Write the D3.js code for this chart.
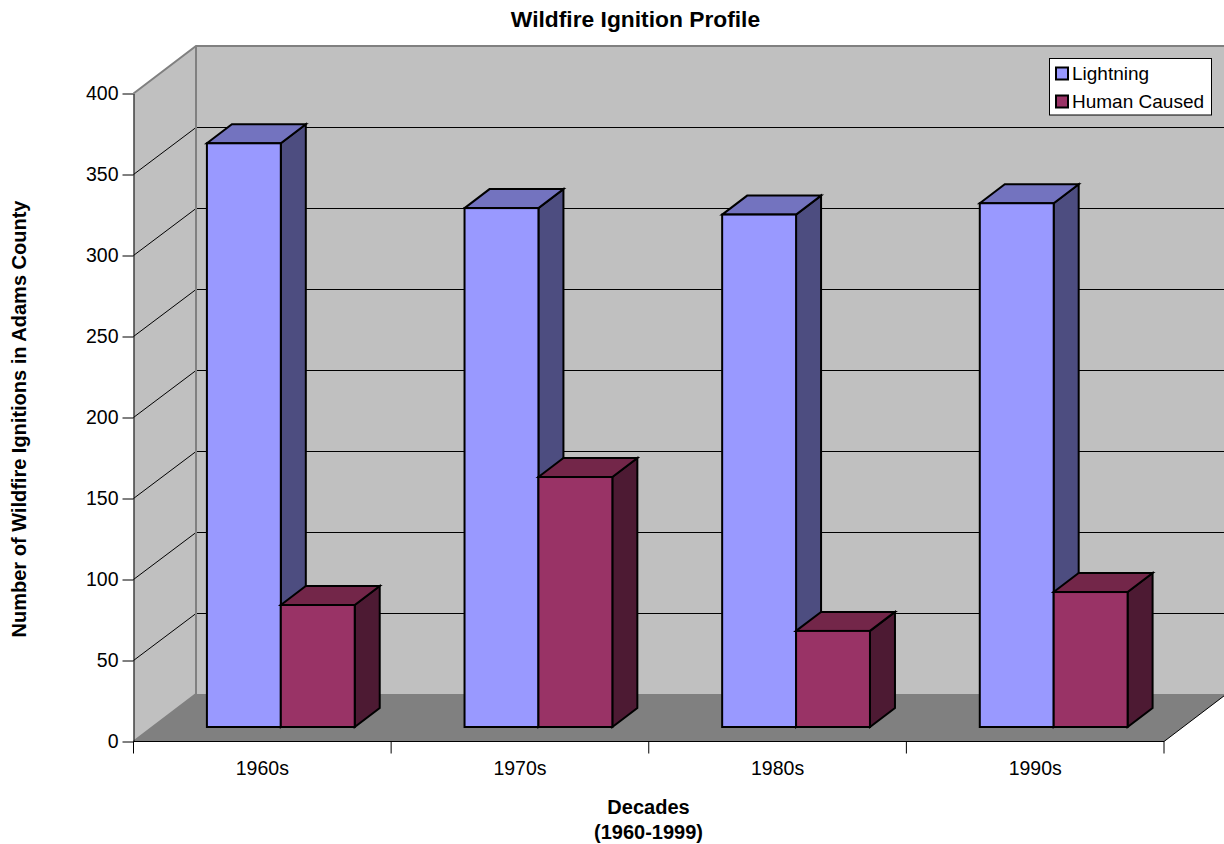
<!DOCTYPE html>
<html>
<head>
<meta charset="utf-8">
<title>Wildfire Ignition Profile</title>
<script src="https://cdn.jsdelivr.net/npm/d3@7"></script>
<style>
  html, body { margin: 0; padding: 0; background: #fff; overflow: hidden; }
  svg { display: block; font-family: "Liberation Sans", Arial, sans-serif; }
</style>
</head>
<body>
<svg id="chart" width="1224" height="844"></svg>
<script>
// Ignition counts per decade
const decades = ["1960s", "1970s", "1980s", "1990s"];
const seriesNames = ["Lightning", "Human Caused"];
const lightning = [360, 320, 316, 323];
const humanCaused = [75, 154, 59, 83];
const yTicks = [0, 50, 100, 150, 200, 250, 300, 350, 400];

const seriesValues = [lightning, humanCaused];
const seriesColors = [
  { front: "#9999ff", top: "#7373bf", side: "#4d4d80" },
  { front: "#993366", top: "#732649", side: "#4d1a33" }
];

const svg = d3.select("#chart");

// Front plane of the plot box
const plotLeft = 133.5, plotRight = 1164, plotBottom = 741.5, plotTop = 93.5;

const y = d3.scaleLinear().domain([0, 400]).range([plotBottom, plotTop]);
const x0 = d3.scaleBand().domain(decades).range([plotLeft, plotRight]);
const x1 = d3.scaleBand().domain(seriesNames).range([0, x0.bandwidth()])
  .paddingInner(0).paddingOuter(0.743);

// Oblique projection offsets: box depth, bar position in depth, bar depth
const depth = { dx: 62.5, dy: -47.5 };
const barInset = { dx: 19, dy: -14.5 };
const barDepth = { dx: 25, dy: -19 };

const pts = a => a.map(p => p.join(",")).join(" ");
const crisp = v => Math.floor(v) + 0.5;

// Back wall and side wall
svg.append("polygon")
  .attr("points", pts([[plotLeft + depth.dx, plotTop + depth.dy], [1224, plotTop + depth.dy],
                       [1224, plotBottom + depth.dy], [plotLeft + depth.dx, plotBottom + depth.dy]]))
  .attr("fill", "#c0c0c0");
svg.append("polygon")
  .attr("points", pts([[plotLeft, plotTop], [plotLeft + depth.dx, plotTop + depth.dy],
                       [plotLeft + depth.dx, plotBottom + depth.dy], [plotLeft, plotBottom]]))
  .attr("fill", "#c0c0c0");

// Floor
svg.append("polygon")
  .attr("points", pts([[plotLeft, plotBottom], [plotRight, plotBottom],
                       [plotRight + depth.dx, plotBottom + depth.dy], [plotLeft + depth.dx, plotBottom + depth.dy]]))
  .attr("fill", "#808080");

// Gridlines run along the side wall and across the back wall
yTicks.filter(t => t > 0 && t < 400).forEach(t => {
  const backY = crisp(y(t) + depth.dy);
  svg.append("polyline")
    .attr("points", pts([[plotLeft, crisp(y(t))], [plotLeft + depth.dx, backY], [1224, backY]]))
    .attr("fill", "none").attr("stroke", "#000").attr("stroke-width", 1);
});

// Wall outlines
svg.append("polyline")
  .attr("points", pts([[plotLeft, plotTop], [plotLeft + depth.dx, plotTop + depth.dy], [1224, plotTop + depth.dy]]))
  .attr("fill", "none").attr("stroke", "#808080").attr("stroke-width", 2);
svg.append("polyline")
  .attr("points", pts([[plotLeft + depth.dx, plotTop + depth.dy], [plotLeft + depth.dx, plotBottom + depth.dy], [plotLeft, plotBottom]]))
  .attr("fill", "none").attr("stroke", "#808080").attr("stroke-width", 2);

// Floor right edge
svg.append("line")
  .attr("x1", plotRight).attr("y1", plotBottom)
  .attr("x2", plotRight + depth.dx).attr("y2", plotBottom + depth.dy)
  .attr("stroke", "#000").attr("stroke-width", 1);

// Bars: each is a front face, a top face and a side face
const baseY = plotBottom + barInset.dy;
const barScale = v => y(0) - y(v);

decades.forEach((decade, i) => {
  seriesNames.forEach((name, s) => {
    const v = seriesValues[s][i];
    const c = seriesColors[s];
    const left = x0(decade) + x1(name) + barInset.dx - 0.5;
    const right = left + x1.bandwidth();
    const topY = baseY - barScale(v) - 0.5;
    const g = svg.append("g").attr("class", "bar")
      .attr("stroke", "#000").attr("stroke-width", 2).attr("stroke-linejoin", "miter");
    g.append("polygon").attr("fill", c.side)
      .attr("points", pts([[right, topY], [right + barDepth.dx, topY + barDepth.dy],
                           [right + barDepth.dx, baseY + barDepth.dy], [right, baseY]]));
    g.append("polygon").attr("fill", c.top)
      .attr("points", pts([[left, topY], [left + barDepth.dx, topY + barDepth.dy],
                           [right + barDepth.dx, topY + barDepth.dy], [right, topY]]));
    g.append("rect").attr("fill", c.front)
      .attr("x", left).attr("y", topY)
      .attr("width", right - left).attr("height", baseY - topY);
  });
});

// Value axis
const yAxis = svg.append("g").attr("transform", `translate(${plotLeft},0)`)
  .call(d3.axisLeft(y).tickValues(yTicks).tickSize(11).tickPadding(4).tickSizeOuter(0));
yAxis.select(".domain").attr("stroke", "#000");
yAxis.selectAll("text").attr("font-size", 19.5).attr("fill", "#000")
  .attr("font-family", "'Liberation Sans', Arial, sans-serif");

// Category axis: labels from the band scale, ticks on the band boundaries
const xAxis = svg.append("g").attr("transform", `translate(0,${plotBottom})`)
  .call(d3.axisBottom(x0).tickSize(0).tickPadding(20));
xAxis.select(".domain").remove();
xAxis.selectAll("text").attr("font-size", 19.5).attr("fill", "#000")
  .attr("font-family", "'Liberation Sans', Arial, sans-serif");
svg.append("line")
  .attr("x1", plotLeft).attr("x2", plotRight)
  .attr("y1", plotBottom).attr("y2", plotBottom)
  .attr("stroke", "#000").attr("stroke-width", 1);
decades.map(d => x0(d)).concat([x0.range()[1]]).forEach(xp => {
  svg.append("line")
    .attr("x1", xp).attr("x2", xp)
    .attr("y1", plotBottom).attr("y2", plotBottom + 12)
    .attr("stroke", "#000").attr("stroke-width", 1);
});

// Titles
svg.append("text").attr("x", 635.5).attr("y", 27).attr("text-anchor", "middle")
  .attr("font-size", 22.8).attr("font-weight", "bold").text("Wildfire Ignition Profile");
svg.append("text").attr("x", 648.5).attr("y", 814).attr("text-anchor", "middle")
  .attr("font-size", 20).attr("font-weight", "bold").text("Decades");
svg.append("text").attr("x", 648.5).attr("y", 839).attr("text-anchor", "middle")
  .attr("font-size", 20).attr("font-weight", "bold").text("(1960-1999)");
svg.append("text").attr("transform", "translate(26,419) rotate(-90)").attr("text-anchor", "middle")
  .attr("font-size", 20).attr("font-weight", "bold").text("Number of Wildfire Ignitions in Adams County");

// Legend
const legend = svg.append("g");
legend.append("rect").attr("x", 1049.5).attr("y", 58.5).attr("width", 162).attr("height", 56.5)
  .attr("fill", "#fff").attr("stroke", "#000").attr("stroke-width", 1);
seriesNames.forEach((name, s) => {
  const rowY = 73.5 + s * 28;
  legend.append("rect").attr("x", 1056).attr("y", rowY - 6).attr("width", 12).attr("height", 12)
    .attr("fill", seriesColors[s].front).attr("stroke", "#000").attr("stroke-width", 2);
  legend.append("text").attr("x", 1072).attr("y", rowY + 6.5).attr("font-size", 19).attr("fill", "#000").text(name);
});
</script>
</body>
</html>
